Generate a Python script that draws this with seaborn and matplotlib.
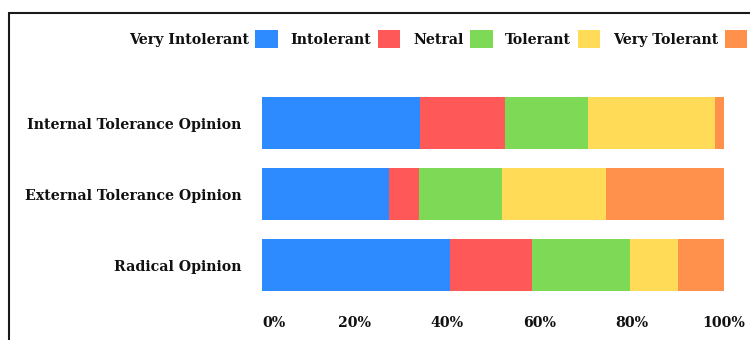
import matplotlib
matplotlib.use("Agg")
import matplotlib.pyplot as plt
from matplotlib.patches import Rectangle, Patch
from matplotlib.ticker import FuncFormatter
import numpy as np
import pandas as pd
import seaborn as sns

# Survey opinions, share of respondents (%) per tolerance level
opinions = ["Internal Tolerance Opinion", "External Tolerance Opinion", "Radical Opinion"]
levels = ["Very Intolerant", "Intolerant", "Netral", "Tolerant", "Very Tolerant"]
very_intolerant = [34.1, 27.4, 40.7]
intolerant = [18.6, 6.6, 17.7]
netral = [17.8, 17.9, 21.2]
tolerant = [27.5, 22.6, 10.5]
very_tolerant = [2.0, 25.5, 9.9]
x_ticks = [0, 20, 40, 60, 80, 100]

colors = ["#2E8BFF", "#FF5858", "#7ED957", "#FFDB58", "#FF914D"]

sns.set_theme(style="white")
plt.rcParams["font.family"] = ["DejaVu Serif"]
plt.rcParams["font.weight"] = "bold"
plt.rcParams["text.color"] = "#111111"
plt.rcParams["xtick.color"] = "#111111"
plt.rcParams["ytick.color"] = "#111111"

series = [very_intolerant, intolerant, netral, tolerant, very_tolerant]
shares = pd.DataFrame(dict(zip(levels, series)), index=opinions)
cumulative = shares.cumsum(axis=1)

fig = plt.figure(figsize=(7.5, 3.4), dpi=100)
ax = fig.add_axes([262 / 750, (340 - 300.5) / 340, 462 / 750, 213 / 340])

# Stacked bars: draw running totals from the widest down so each segment shows
for level, color in reversed(list(zip(levels, colors))):
    df = pd.DataFrame({"opinion": opinions, "total": cumulative[level].values})
    sns.barplot(data=df, y="opinion", x="total", color=color, width=0.73,
                saturation=1, orient="h", ax=ax, linewidth=0)

ax.set_xlim(0, 100)
ax.set_ylim(2.5, -0.5)
ax.set_xticks(x_ticks)
ax.xaxis.set_major_formatter(FuncFormatter(lambda v, _: f"{v:.0f}%"))
ax.set_xlabel("")
ax.set_ylabel("")
ax.tick_params(axis="both", length=0, labelsize=10.2)
ax.tick_params(axis="y", pad=15)
ax.tick_params(axis="x", pad=11)
for lbl in ax.get_xticklabels() + ax.get_yticklabels():
    lbl.set_fontweight("bold")
ax.get_xticklabels()[0].set_horizontalalignment("left")
sns.despine(ax=ax, left=True, bottom=True)

handles = [Patch(facecolor=c, edgecolor="none") for c in colors]
fig.legend(handles, levels, loc="center left", bbox_to_anchor=(116 / 750, 1 - 39 / 340),
           ncol=5, frameon=False, markerfirst=False, handlelength=1.6,
           handleheight=1.65, handletextpad=0.45, columnspacing=0.9,
           prop={"weight": "bold", "size": 10.2})

# Outer frame around the figure
fig.patches.append(Rectangle((8.5 / 750, -0.2), 1.2, 1.2 - 12.5 / 340,
                             transform=fig.transFigure, fill=False,
                             edgecolor="#1a1a1a", linewidth=1.5, clip_on=False))

fig.savefig("out.png", dpi=100)
